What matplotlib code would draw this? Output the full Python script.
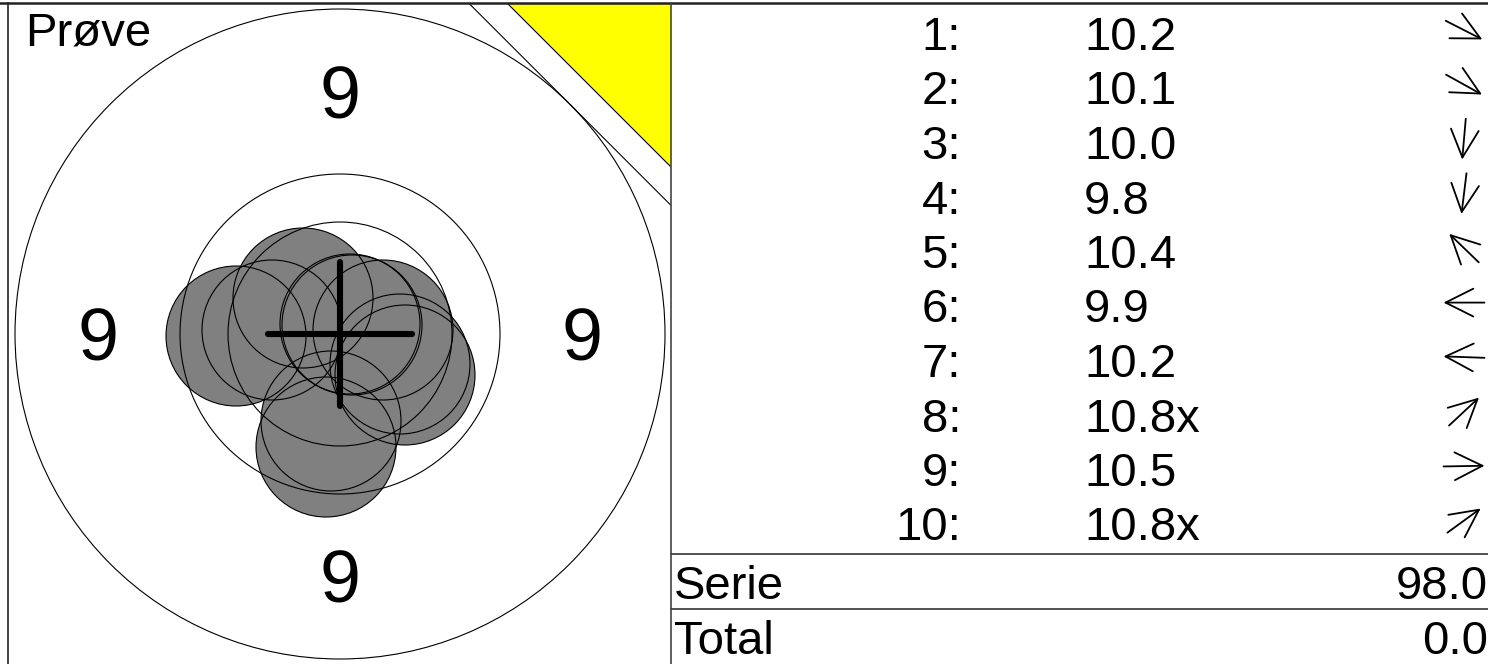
import matplotlib
matplotlib.use('Agg')
import matplotlib.pyplot as plt
from matplotlib.patches import Circle, Polygon, FancyArrowPatch
from matplotlib.lines import Line2D
import numpy as np

# ---------------- data ----------------
title = 'Prøve'
shot_labels = ['1:', '2:', '3:', '4:', '5:', '6:', '7:', '8:', '9:', '10:']
shot_scores = ['10.2', '10.1', '10.0', '9.8', '10.4', '9.9', '10.2', '10.8x', '10.5', '10.8x']
shot_dir_deg = [-27, -29, -95, -97, 136, 180, 178, 43, 1, 36]
# shot centre offsets from target centre (target units, y up)
shot_x = [60, 65, -9, -14, -37, -104, -68, 10, 43, 12]
shot_y = [-30, -41, -87, -113, 36, -2, 4, 10, 4, 9]
shot_radius = 70
ring_radii = [325, 160, 112]
ring_label = '9'
ring_label_dist = 242
series_label, series_value = 'Serie', '98.0'
total_label, total_value = 'Total', '0.0'

# ---------------- figure ----------------
W, H, DPI = 1488, 664, 100
FONT = 'Liberation Sans'
plt.rcParams['font.family'] = [FONT, 'DejaVu Sans']
fig = plt.figure(figsize=(W / DPI, H / DPI), dpi=DPI)
fig.patch.set_facecolor('white')

def fx(x):
    return x / W

def fy(y):
    return 1 - y / H

# ----- target panel -----
ax = fig.add_axes([fx(7), 0, 664 / W, 661 / H])
xmin, xmax, ymin, ymax = -333, 331, -330, 331
ax.set_xlim(xmin, xmax)
ax.set_ylim(ymin, ymax)
ax.axis('off')

R = ring_radii[0]
c0 = R * np.sqrt(2)          # tangent line x + y = c0
c1 = c0 + 38                 # yellow triangle hypotenuse
ax.add_patch(Polygon([(c1 - ymax, ymax), (xmax + 5, ymax), (xmax + 5, c1 - xmax - 5)],
                     closed=True, facecolor='#ffff00', edgecolor='black', lw=0.8, zorder=1))
ax.plot([c0 - ymax, xmax + 5], [ymax, c0 - xmax - 5], color='black', lw=0.8, zorder=1)

for x, y in zip(shot_x, shot_y):
    ax.add_patch(Circle((x, y), shot_radius, facecolor='#808080', edgecolor='none', zorder=2))
for x, y in zip(shot_x, shot_y):
    ax.add_patch(Circle((x, y), shot_radius, facecolor='none', edgecolor='black', lw=0.8, zorder=3))
for r in ring_radii:
    ax.add_patch(Circle((0, 0), r, facecolor='none', edgecolor='black', lw=0.8, zorder=3))

# crosshair
ch = 72
ax.plot([-ch, ch], [0, 0], color='black', lw=4.4, solid_capstyle='round', zorder=4)
ax.plot([0, 0], [-ch, ch], color='black', lw=4.4, solid_capstyle='round', zorder=4)

# ring labels
fs9 = 53
cap9 = fs9 * DPI / 72 * 0.716
for dx, dy in [(-1, 0), (1, 0), (0, 1), (0, -1)]:
    ax.text(dx * ring_label_dist, dy * ring_label_dist - cap9 / 2, ring_label,
            ha='center', va='baseline', fontsize=fs9, zorder=5)

fig.text(fx(25), fy(45), title, ha='left', va='baseline', fontsize=34)

# ----- table panel -----
tx = fig.add_axes([fx(671), 0, 817 / W, 661 / H])
tx.set_xlim(0, 817)
tx.set_ylim(661, 0)
tx.axis('off')

fs = 34
cap = fs * DPI / 72 * 0.716
row0, step = 47, 54.5
for i, (lab, sc, ang) in enumerate(zip(shot_labels, shot_scores, shot_dir_deg)):
    base = row0 + step * i
    tx.text(290, base, lab, ha='right', va='baseline', fontsize=fs)
    tx.text(413, base, sc, ha='left', va='baseline', fontsize=fs)
    cx, cy = 793, base - cap / 2 - 3
    L = 41
    a = np.deg2rad(ang)
    ddx, ddy = np.cos(a) * L / 2, -np.sin(a) * L / 2
    tx.add_patch(FancyArrowPatch((cx - ddx, cy - ddy), (cx + ddx, cy + ddy),
                                 arrowstyle='->,head_length=1.0,head_width=0.5',
                                 mutation_scale=20, lw=1.3, color='black',
                                 shrinkA=0, shrinkB=0))

for yline in [551, 606]:
    tx.plot([0, 817], [yline, yline], color='#333333', lw=1.2, clip_on=False)

tx.text(3, 596, series_label, ha='left', va='baseline', fontsize=34)
tx.text(817, 596, series_value, ha='right', va='baseline', fontsize=34)
tx.text(3, 651, total_label, ha='left', va='baseline', fontsize=34)
tx.text(817, 651, total_value, ha='right', va='baseline', fontsize=34)

# ----- frame lines -----
fig.add_artist(Line2D([0, 1], [fy(2.5), fy(2.5)], transform=fig.transFigure, color='#222222', lw=1.8))
fig.add_artist(Line2D([fx(7.5), fx(7.5)], [0, fy(3)], transform=fig.transFigure, color='#222222', lw=1.2))
fig.add_artist(Line2D([fx(671), fx(671)], [0, fy(3)], transform=fig.transFigure, color='#444444', lw=1.2))

fig.savefig('out.png', dpi=DPI, facecolor='white')
